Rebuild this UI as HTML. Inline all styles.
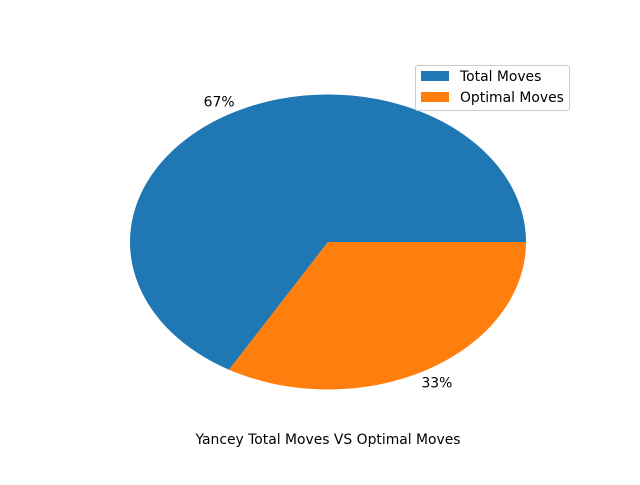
<!DOCTYPE html>
<html><head><meta charset="utf-8"><style>
body{margin:0;background:#fff;}
svg{font-family:"DejaVu Sans","Liberation Sans",sans-serif;}
</style></head><body>
<svg width="640" height="480" id="chart">
<rect width="640" height="480" fill="#fff"/>
<g id="slices"></g>
<g id="labels"></g>
<g>
<rect x="415.5" y="65.5" width="154" height="45" rx="2" fill="#fff" stroke="#ccc"/>
<rect x="421" y="71" width="28" height="10" fill="#1f77b4"/>
<text x="460" y="81" font-size="13.9">Total Moves</text>
<rect x="421" y="92" width="28" height="10" fill="#ff7f0e"/>
<text x="460" y="102" font-size="13.9">Optimal Moves</text>
</g>
<text x="328" y="444" font-size="13.9" text-anchor="middle">Yancey Total Moves VS Optimal Moves</text>
</svg>
<script>
const categories = ["Total Moves", "Optimal Moves"];
const values = [20, 10];
const colors = ["#1f77b4", "#ff7f0e"];
const cx = 328, cy = 242, rx = 198, ry = 147.5;
const ns = "http://www.w3.org/2000/svg";
const total = values.reduce((a, b) => a + b, 0);
let start = 0;
values.forEach((v, i) => {
  const frac = v / total;
  const a0 = start * 2 * Math.PI, a1 = (start + frac) * 2 * Math.PI;
  const x0 = cx + rx * Math.cos(a0), y0 = cy - ry * Math.sin(a0);
  const x1 = cx + rx * Math.cos(a1), y1 = cy - ry * Math.sin(a1);
  const large = frac > 0.5 ? 1 : 0;
  const p = document.createElementNS(ns, "path");
  p.setAttribute("d", `M${cx},${cy} L${x0},${y0} A${rx},${ry} 0 ${large} 0 ${x1},${y1} Z`);
  p.setAttribute("fill", colors[i]);
  
  
  document.getElementById("slices").appendChild(p);
  const am = (a0 + a1) / 2;
  const t = document.createElementNS(ns, "text");
  t.setAttribute("x", cx + 1.1 * rx * Math.cos(am));
  t.setAttribute("y", cy - 1.1 * ry * Math.sin(am) + 5);
  t.setAttribute("text-anchor", "middle");
  t.setAttribute("font-size", "13.9");
  t.textContent = Math.round(frac * 100) + "%";
  
  
  document.getElementById("labels").appendChild(t);
  start += frac;
});
</script>
</body></html>
